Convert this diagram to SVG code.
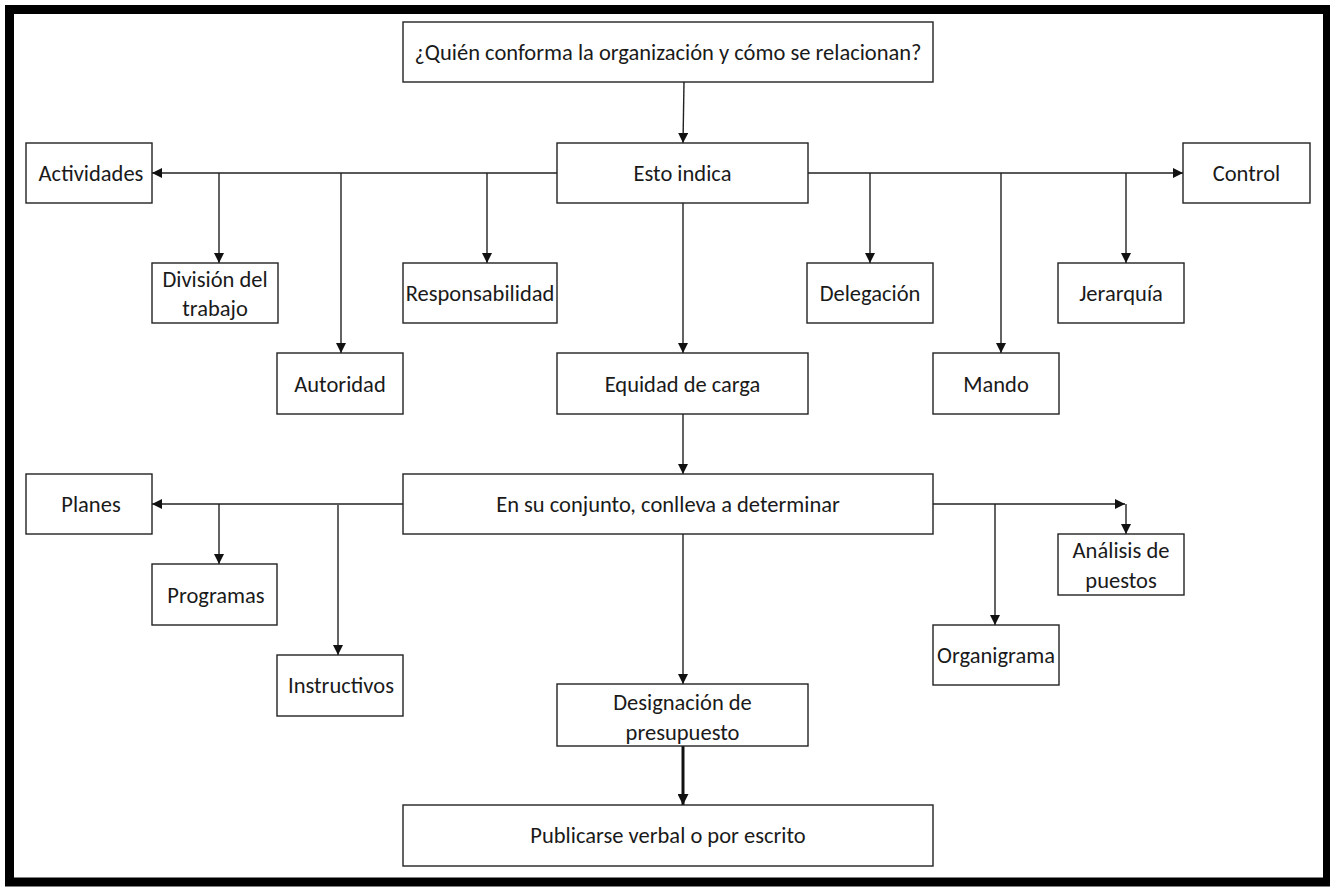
<svg xmlns="http://www.w3.org/2000/svg" width="1330" height="888" viewBox="0 0 1330 888">
<style>
  .box { fill: #ffffff; stroke: #222222; stroke-width: 1.4; }
  .t { font-family: Carlito, Lato, "Liberation Sans", sans-serif; font-size: 22.5px; fill: #1a1a1a; text-anchor: middle; dominant-baseline: central; }
  .c { fill: none; stroke: #222222; stroke-width: 1.4; }
  .thick { fill: none; stroke: #111111; stroke-width: 3; }
</style>
<defs>
  <marker id="ah" markerUnits="userSpaceOnUse" markerWidth="10" markerHeight="10" viewBox="0 0 10 10" refX="10" refY="5" orient="auto">
    <path d="M0,0 L10,5 L0,10 z" fill="#111111"/>
  </marker>
  <marker id="ahb" markerUnits="userSpaceOnUse" markerWidth="11" markerHeight="11" viewBox="0 0 10 10" refX="10" refY="5" orient="auto">
    <path d="M0,0 L10,5 L0,10 z" fill="#111111"/>
  </marker>
</defs>
<rect x="0" y="0" width="1330" height="888" fill="#ffffff"/>
<rect x="9.5" y="9.5" width="1318" height="872.5" fill="none" stroke="#000000" stroke-width="9"/>

<g id="connectors">
  <line class="c" x1="684" y1="82" x2="683" y2="143" marker-end="url(#ah)"/>
  <line class="c" x1="557" y1="173" x2="152" y2="173" marker-end="url(#ah)"/>
  <line class="c" x1="219" y1="173" x2="219" y2="263" marker-end="url(#ah)"/>
  <line class="c" x1="341" y1="173" x2="341" y2="353" marker-end="url(#ah)"/>
  <line class="c" x1="487" y1="173" x2="487" y2="263" marker-end="url(#ah)"/>
  <line class="c" x1="808" y1="173" x2="1183" y2="173" marker-end="url(#ah)"/>
  <line class="c" x1="870" y1="173" x2="870" y2="263" marker-end="url(#ah)"/>
  <line class="c" x1="1001" y1="173" x2="1001" y2="353" marker-end="url(#ah)"/>
  <line class="c" x1="1126" y1="173" x2="1126" y2="263" marker-end="url(#ah)"/>
  <line class="c" x1="683" y1="203" x2="683" y2="353" marker-end="url(#ah)"/>
  <line class="c" x1="683" y1="414" x2="683" y2="474" marker-end="url(#ah)"/>
  <line class="c" x1="403" y1="504" x2="152" y2="504" marker-end="url(#ah)"/>
  <line class="c" x1="219" y1="504" x2="219" y2="564" marker-end="url(#ah)"/>
  <line class="c" x1="338" y1="505" x2="338" y2="655" marker-end="url(#ah)"/>
  <line class="c" x1="933" y1="504" x2="1125" y2="504" marker-end="url(#ah)"/>
  <line class="c" x1="1126" y1="504" x2="1126" y2="534" marker-end="url(#ah)"/>
  <line class="c" x1="995" y1="504" x2="995" y2="625" marker-end="url(#ah)"/>
  <line class="c" x1="683" y1="534" x2="683" y2="684" marker-end="url(#ah)"/>
  <line class="thick" x1="683" y1="746" x2="683" y2="805" marker-end="url(#ahb)"/>
</g>

<g id="n-quien"><rect class="box" x="403" y="22" width="530" height="60"/><text class="t" x="668" y="52">¿Quién conforma la organización y cómo se relacionan?</text></g>
<g id="n-esto"><rect class="box" x="557" y="143" width="251" height="60"/><text class="t" x="682.5" y="173">Esto indica</text></g>
<g id="n-actividades"><rect class="box" x="26" y="143" width="126" height="60"/><text class="t" x="91" y="173">Actividades</text></g>
<g id="n-control"><rect class="box" x="1183" y="143" width="127" height="60"/><text class="t" x="1246.5" y="173">Control</text></g>
<g id="n-division"><rect class="box" x="152" y="263" width="126" height="60"/><text class="t" x="215" y="279">División del</text><text class="t" x="215" y="308">trabajo</text></g>
<g id="n-responsabilidad"><rect class="box" x="403" y="263" width="154" height="60"/><text class="t" x="480" y="293">Responsabilidad</text></g>
<g id="n-delegacion"><rect class="box" x="807" y="263" width="126" height="60"/><text class="t" x="870" y="293">Delegación</text></g>
<g id="n-jerarquia"><rect class="box" x="1058" y="263" width="126" height="60"/><text class="t" x="1121" y="293">Jerarquía</text></g>
<g id="n-autoridad"><rect class="box" x="277" y="353" width="126" height="61"/><text class="t" x="340" y="384">Autoridad</text></g>
<g id="n-equidad"><rect class="box" x="557" y="353" width="251" height="61"/><text class="t" x="682.5" y="384">Equidad de carga</text></g>
<g id="n-mando"><rect class="box" x="933" y="353" width="126" height="61"/><text class="t" x="996" y="384">Mando</text></g>
<g id="n-conjunto"><rect class="box" x="403" y="474" width="530" height="60"/><text class="t" x="668" y="504">En su conjunto, conlleva a determinar</text></g>
<g id="n-planes"><rect class="box" x="26" y="474" width="126" height="60"/><text class="t" x="91" y="504">Planes</text></g>
<g id="n-programas"><rect class="box" x="152" y="564" width="125" height="61"/><text class="t" x="216" y="595">Programas</text></g>
<g id="n-instructivos"><rect class="box" x="277" y="655" width="126" height="61"/><text class="t" x="341" y="685">Instructivos</text></g>
<g id="n-analisis"><rect class="box" x="1058" y="534" width="126" height="61"/><text class="t" x="1121" y="550">Análisis de</text><text class="t" x="1121" y="580">puestos</text></g>
<g id="n-organigrama"><rect class="box" x="933" y="625" width="126" height="60"/><text class="t" x="996" y="655">Organigrama</text></g>
<g id="n-designacion"><rect class="box" x="557" y="684" width="251" height="62"/><text class="t" x="682.5" y="702">Designación de</text><text class="t" x="682.5" y="732">presupuesto</text></g>
<g id="n-publicarse"><rect class="box" x="403" y="805" width="530" height="61"/><text class="t" x="668" y="835">Publicarse verbal o por escrito</text></g>
</svg>
